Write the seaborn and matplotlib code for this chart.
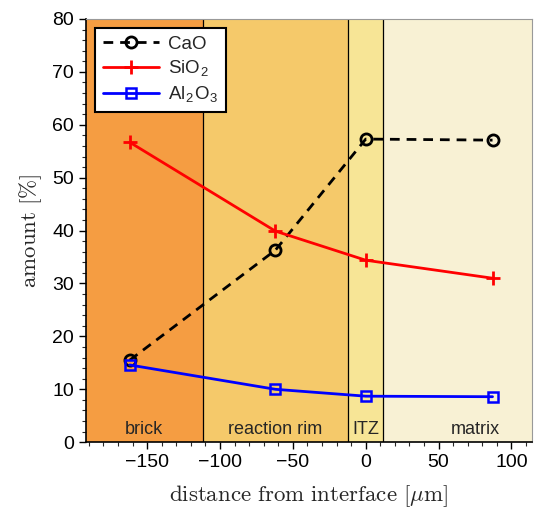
import numpy as np
import pandas as pd
import matplotlib
matplotlib.use("Agg")
import matplotlib.pyplot as plt
import matplotlib.ticker as mticker
import seaborn as sns

# ── data ─────────────────────────────────────────────────────────────────────
distance = [-162, -62, 0, 87]
cao = [15.5, 36.3, 57.3, 57.1]
sio2 = [56.7, 39.9, 34.4, 31.0]
al2o3 = [14.6, 10.0, 8.7, 8.6]

zone_names = ["brick", "reaction rim", "ITZ", "matrix"]
zone_edges = [-192, -112, -12, 12, 138]
zone_label_x = [-152, -62, 0, 75]
zone_colors = ["#F59D42", "#F5C96A", "#F7E596", "#F8F1D4"]

sns.set_theme(style="ticks")
plt.rcParams["font.family"] = ["Liberation Sans", "DejaVu Sans"]
plt.rcParams["mathtext.fontset"] = "cm"

df = pd.DataFrame({
    "distance": distance * 3,
    "amount": cao + sio2 + al2o3,
    "oxide": ["CaO"] * 4 + ["SiO2"] * 4 + ["Al2O3"] * 4,
})

fig, ax = plt.subplots(figsize=(5.34, 5.13), dpi=100)

for i, name in enumerate(zone_names):
    ax.axvspan(zone_edges[i], zone_edges[i + 1], color=zone_colors[i], lw=0, zorder=0)
    ax.text(zone_label_x[i], 2.4, name, ha="center", va="center", fontsize=13, zorder=1)
for e in zone_edges[1:4]:
    ax.axvline(e, color="black", lw=0.9, zorder=1)

styles = {
    "CaO": dict(color="black", ls=(0, (3.5, 2.5)), marker="o", ms=8, mfc="none", mec="black", mew=2),
    "SiO2": dict(color="red", ls="-", marker="+", ms=10, mec="red", mew=2),
    "Al2O3": dict(color="blue", ls="-", marker="s", ms=7, mfc="none", mec="blue", mew=1.8),
}
labels = {"CaO": "CaO", "SiO2": r"SiO$_\mathregular{2}$", "Al2O3": r"Al$_\mathregular{2}$O$_\mathregular{3}$"}

handles = []
for ox, sub in df.groupby("oxide", sort=False):
    n_before = len(ax.lines)
    sns.lineplot(data=sub, x="distance", y="amount", ax=ax, lw=2, zorder=3,
                 legend=False, **styles[ox])
    line = ax.lines[n_before]
    line.set_label(labels[ox])
    handles.append(line)

ax.set_xlim(-192, 114)
ax.set_ylim(0, 80)
ax.xaxis.set_major_locator(mticker.MultipleLocator(50))
ax.xaxis.set_minor_locator(mticker.MultipleLocator(10))
ax.yaxis.set_major_locator(mticker.MultipleLocator(10))
ax.yaxis.set_minor_locator(mticker.MultipleLocator(2))
ax.tick_params(which="major", direction="out", length=5, width=1, labelsize=14, colors="black")
ax.tick_params(which="minor", direction="out", length=3, width=0.8)
ax.tick_params(which="both", top=False, right=False)

for side in ["top", "right"]:
    ax.spines[side].set_color("#999999")
    ax.spines[side].set_linewidth(0.8)
for side in ["left", "bottom"]:
    ax.spines[side].set_color("black")
    ax.spines[side].set_linewidth(1.2)

ax.set_xlabel(r"$\mathrm{distance\ from\ interface\ [\mu m]}$", fontsize=16.5, labelpad=9)
ax.set_ylabel(r"$\mathrm{amount\ [\%]}$", fontsize=16.5, labelpad=6)

leg = ax.legend(handles=handles, loc="upper left", fontsize=13.5, frameon=True, fancybox=False,
                framealpha=1, edgecolor="black", handlelength=3, borderpad=0.4,
                labelspacing=0.3, handletextpad=0.5, borderaxespad=0.5)
leg.get_frame().set_linewidth(1.5)

plt.subplots_adjust(left=0.161, right=0.996, top=0.963, bottom=0.138)
plt.savefig("out.png", dpi=100)
